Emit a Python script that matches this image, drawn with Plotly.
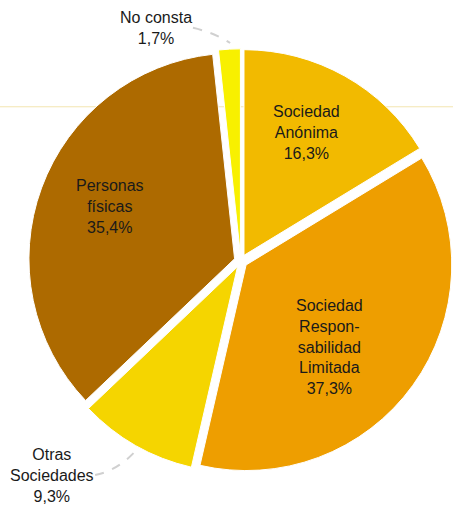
import math
import plotly.graph_objects as go

labels = ["Sociedad Anónima", "Sociedad Responsabilidad Limitada", "Otras Sociedades", "Personas físicas", "No consta"]
text_labels = ["Sociedad<br>Anónima", "Sociedad<br>Respon-<br>sabilidad<br>Limitada", "Otras<br>Sociedades", "Personas<br>físicas", "No consta"]
values = [16.3, 37.3, 9.3, 35.4, 1.7]
pct_text = ["16,3%", "37,3%", "9,3%", "35,4%", "1,7%"]
colors = ["#F2BA00", "#EE9E00", "#F5D500", "#AD6A00", "#F8F000"]

FONT = "Liberation Sans, Arial"
TXT = "#1A1A1A"
W, H = 453, 506
PULL = 0.032
DOM_X = [0.063, 1.0]
DOM_Y = [0.0645, 0.9036]

# label placement style (radial fraction, angular shift in degrees) for inside labels
inside_style = {0: (0.67, -2.5), 1: (0.57, 8.5), 3: (0.655, 2.5)}

fig = go.Figure()
fig.add_trace(go.Pie(
    labels=labels,
    values=values,
    textinfo="none",
    sort=False,
    direction="clockwise",
    rotation=0,
    pull=[PULL] * len(values),
    marker=dict(colors=colors, line=dict(color="white", width=1)),
    domain=dict(x=DOM_X, y=DOM_Y),
    showlegend=False,
    hoverinfo="label+percent",
))

# geometry of pie (pixels) from domain, as plotly computes it
cx = (DOM_X[0] + DOM_X[1]) / 2 * W
cy = (1 - (DOM_Y[0] + DOM_Y[1]) / 2) * H
half = min((DOM_X[1] - DOM_X[0]) * W, (DOM_Y[1] - DOM_Y[0]) * H) / 2
R = half / (1 + PULL)
total = sum(values)
cum = 0.0
for i, v in enumerate(values):
    mid = (cum + v / 2) / total * 360.0
    cum += v
    if i not in inside_style:
        continue
    frac, shift = inside_style[i]
    a_p = math.radians(mid)
    px0 = cx + PULL * R * math.sin(a_p)
    py0 = cy - PULL * R * math.cos(a_p)
    a = math.radians(mid + shift)
    px = px0 + frac * R * math.sin(a)
    py = py0 - frac * R * math.cos(a)
    fig.add_annotation(x=px / W, y=1 - py / H, xref="paper", yref="paper",
                       xanchor="center", yanchor="middle",
                       text=text_labels[i] + "<br>" + pct_text[i], showarrow=False,
                       font=dict(family=FONT, size=16, color=TXT), align="center")

# outside labels for small slices
fig.add_annotation(x=0.344, y=0.944, xref="paper", yref="paper",
                   xanchor="center", yanchor="middle",
                   text=text_labels[4] + "<br>" + pct_text[4], showarrow=False,
                   font=dict(family=FONT, size=16, color=TXT), align="center")
fig.add_annotation(x=0.1148, y=0.0593, xref="paper", yref="paper",
                   xanchor="center", yanchor="middle",
                   text=text_labels[2] + "<br>" + pct_text[2], showarrow=False,
                   font=dict(family=FONT, size=16, color=TXT), align="center")

# dashed leader lines
fig.add_shape(type="path", xref="paper", yref="paper",
              path="M 0.426,0.945 Q 0.475,0.935 0.508,0.915",
              line=dict(color="#D0D0D0", width=2, dash="dash"))
fig.add_shape(type="path", xref="paper", yref="paper",
              path="M 0.21,0.0613 Q 0.262,0.07 0.305,0.1146",
              line=dict(color="#D0D0D0", width=2, dash="dash"))
# faint horizontal line
fig.add_shape(type="line", xref="paper", yref="paper", x0=0, x1=1, y0=0.789, y1=0.789,
              line=dict(color="#F3E6B0", width=1), layer="below")

fig.update_layout(
    width=W, height=H,
    margin=dict(l=0, r=0, t=0, b=0),
    paper_bgcolor="white",
    plot_bgcolor="white",
)

fig.write_html("out.html", config={"displayModeBar": False},
               post_script="document.body.style.margin='0';")
